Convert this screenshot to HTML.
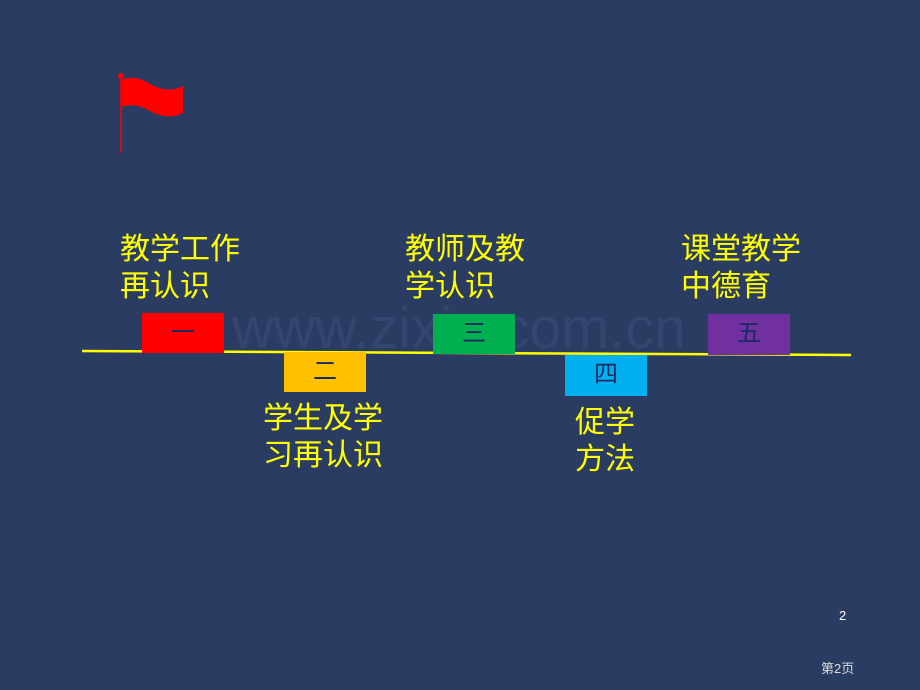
<!DOCTYPE html><html><head><meta charset="utf-8"><style>
body{margin:0;width:920px;height:690px;background:#2b3c63;position:relative;overflow:hidden;font-family:"Liberation Sans","Noto Sans CJK SC",sans-serif}
.t{position:absolute;color:#ffff00;font-size:30px;line-height:37px;white-space:nowrap}
.b{position:absolute;width:82px;height:40px;color:#1a2a60;font-size:24px;line-height:40px;text-align:center}
.s{position:absolute;color:#fff;font-size:13px}
</style></head><body>
<svg width="920" height="690" style="position:absolute;left:0;top:0">
<line x1="121" y1="76" x2="121" y2="153" stroke="#f00" stroke-width="1.5"/>
<circle cx="121" cy="76" r="3" fill="#f00"/>
<path d="M121 80 Q135 74 150 84 Q168 94 183 86 L183 113 Q168 121 150 111 Q135 102 121 107 Z" fill="#f00"/>
<line x1="82" y1="351" x2="851" y2="355" stroke="#ffff00" stroke-width="2.5"/>
<text x="232" y="348" font-family="Liberation Sans" font-size="58" textLength="454" lengthAdjust="spacingAndGlyphs" fill="#34466f">www.zixin.com.cn</text>
</svg>
<div class="t" style="left:120px;top:231px">教学工作<br>再认识</div>
<div class="t" style="left:405px;top:231px">教师及教<br>学认识</div>
<div class="t" style="left:681px;top:231px">课堂教学<br>中德育</div>
<div class="t" style="left:263px;top:400px">学生及学<br>习再认识</div>
<div class="t" style="left:575px;top:404px">促学<br>方法</div>
<div class="b" style="left:142px;top:313px;background:#ff0000">一</div>
<div class="b" style="left:284px;top:352px;background:#ffc000">二</div>
<div class="b" style="left:433px;top:314px;background:#00b050">三</div>
<div class="b" style="left:565px;top:355px;height:41px;background:#00b0f0">四</div>
<div class="b" style="left:708px;top:314px;height:41px;background:#7030a0">五</div>
<div class="s" style="left:839px;top:608px">2</div>
<div class="s" style="left:821px;top:658px;color:#ddd">第2页</div>
</body></html>
